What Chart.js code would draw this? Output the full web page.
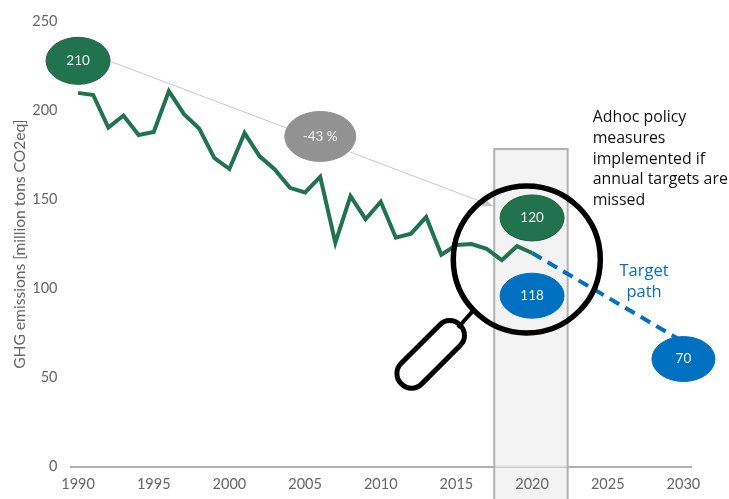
<!DOCTYPE html>
<html>
<head>
<meta charset="utf-8">
<title>GHG emissions</title>
<script src="https://cdn.jsdelivr.net/npm/chart.js@4"></script>
<style>
  html, body { margin: 0; padding: 0; background: #fff; }
  canvas { display: block; }
</style>
</head>
<body>
<canvas id="myChart" width="729" height="499"></canvas>
<script>
// years on the axis
const years = [1990,1991,1992,1993,1994,1995,1996,1997,1998,1999,2000,2001,2002,2003,2004,2005,2006,2007,2008,2009,2010,
  2011,2012,2013,2014,2015,2016,2017,2018,2019,2020,2021,2022,2023,2024,2025,2026,2027,2028,2029,2030];

// historic emissions
const emissions = [210,208.8,190.5,197.3,186.3,188,211,198,190,173.4,167.2,187.4,174.3,167,156.6,154,162.8,125.8,152,139,148.8,
  128.6,130.9,140.2,119,124.5,125,122.3,116,123.8,120];

// target path only has its two ends
const targetYears = [2020, 2030];
const targetValues = [120, 70];
const target = years.map(function (y) {
  const i = targetYears.indexOf(y);
  return i >= 0 ? targetValues[i] : null;
});

const yTicks = [0, 50, 100, 150, 200, 250];
const yTitle = "GHG emissions [million tons CO2eq]";

const noteLines = ["Adhoc policy", "measures", "implemented if", "annual targets are", "missed"];
const targetLines = ["Target", "path"];

const green = "#217350";
const blue = "#0070c0";

// [year, value, rx, ry, label, fill, stroke]
const bubbles = [
  [1990, 228, 32, 23.5, "210", green, "#1a5c40"],
  [2006, 185.5, 35.5, 25, "-43 %", "#929292", "#929292"],
  [2020, 139.7, 32, 23, "120", green, "#1a5c40"],
  [2020, 96, 32, 22.5, "118", blue, blue],
  [2030, 60.4, 31.5, 22.5, "70", blue, blue]
];

function helpers(chart) {
  const x = chart.scales.x, y = chart.scales.y;
  return {
    px: function (yr) { return x.getPixelForValue(yr - 1990); },
    py: function (v) { return y.getPixelForValue(v); }
  };
}

const overlay = {
  id: "overlay",
  // band goes under the axis labels and runs off the bottom of the picture
  beforeDraw(chart) {
    const c = chart.ctx, h = helpers(chart);
    c.save();
    c.fillStyle = "#f3f3f3";
    c.strokeStyle = "#b0b0b0";
    c.lineWidth = 2;
    c.beginPath();
    c.moveTo(h.px(2017.5), chart.height + 2);
    c.lineTo(h.px(2017.5), h.py(178.4));
    c.lineTo(h.px(2022.35), h.py(178.4));
    c.lineTo(h.px(2022.35), chart.height + 2);
    c.fill();
    c.stroke();
    c.restore();
  },
  beforeDatasetsDraw(chart) {
    const c = chart.ctx, h = helpers(chart);
    c.save();

    // axis line looks faded inside the band
    c.strokeStyle = "#e0e0e0";
    c.lineWidth = 2;
    c.beginPath();
    c.moveTo(h.px(2017.5) + 1, h.py(0));
    c.lineTo(h.px(2022.35) - 1, h.py(0));
    c.stroke();

    // arrow from 210 down to 120
    const x0 = h.px(1992.2), y0 = h.py(227.5), x1 = h.px(2017.4), y1 = h.py(146.4);
    const a = Math.atan2(y1 - y0, x1 - x0);
    c.strokeStyle = "#c8c8c8";
    c.lineWidth = 1;
    c.beginPath();
    c.moveTo(x0, y0);
    c.lineTo(x1, y1);
    c.stroke();
    c.fillStyle = "#c8c8c8";
    c.beginPath();
    c.moveTo(x1, y1);
    c.lineTo(x1 - 11 * Math.cos(a - 0.4), y1 - 11 * Math.sin(a - 0.4));
    c.lineTo(x1 - 11 * Math.cos(a + 0.4), y1 - 11 * Math.sin(a + 0.4));
    c.fill();
    c.restore();
  },
  afterDatasetsDraw(chart) {
    const c = chart.ctx, h = helpers(chart);
    c.save();

    // magnifying glass
    c.strokeStyle = "#000";
    c.lineWidth = 5.5;
    c.beginPath();
    c.arc(h.px(2019.65), h.py(116.4), 73.5, 0, Math.PI * 2);
    c.stroke();
    c.lineWidth = 4;
    c.beginPath();
    c.moveTo(h.px(2016.05), h.py(87));
    c.lineTo(h.px(2015.1), h.py(78));
    c.stroke();
    c.save();
    c.translate(h.px(2013.3), h.py(63));
    c.rotate(-Math.PI / 4);
    c.lineWidth = 5;
    c.beginPath();
    c.roundRect(-41.5, -14.5, 83, 29, 14);
    c.stroke();
    c.restore();

    // bubbles
    bubbles.forEach(function (b) {
      const bx = h.px(b[0]), by = h.py(b[1]);
      c.fillStyle = b[5];
      c.strokeStyle = b[6];
      c.lineWidth = 1;
      c.beginPath();
      c.ellipse(bx, by, b[2], b[3], 0, 0, Math.PI * 2);
      c.fill();
      c.stroke();
      c.fillStyle = "#f4f4f4";
      c.font = "13.5px Lato";
      c.textAlign = "center";
      c.textBaseline = "middle";
      c.fillText(b[4], bx, by);
    });

    // notes
    c.fillStyle = "#111";
    c.font = "15.9px 'Open Sans'";
    c.textAlign = "left";
    noteLines.forEach(function (t, i) {
      c.fillText(t, h.px(2024), h.py(196) + i * 20.6);
    });
    c.fillStyle = blue;
    c.font = "16.5px 'Open Sans'";
    c.textAlign = "center";
    targetLines.forEach(function (t, i) {
      c.fillText(t, h.px(2027.4), h.py(109.6) + i * 20.3);
    });
    c.restore();
  }
};

var ctx = document.getElementById("myChart");
var myChart = new Chart(ctx, {
  type: "line",
  data: {
    labels: years,
    datasets: [
      {
        data: emissions,
        borderColor: green,
        borderWidth: 4,
        pointRadius: 0,
        tension: 0,
        borderJoinStyle: "miter",
        fill: false
      },
      {
        data: target,
        borderColor: blue,
        borderWidth: 4,
        borderDash: [11, 7],
        pointRadius: 0,
        tension: 0,
        spanGaps: true,
        fill: false
      }
    ]
  },
  options: {
    responsive: false,
    animation: false,
    layout: { padding: { top: 20, right: 38, bottom: 0, left: 0 } },
    plugins: {
      legend: { display: false },
      title: { display: false },
      tooltip: { enabled: false }
    },
    scales: {
      x: {
        offset: true,
        afterFit(scale) { scale.height = 32.5; },
        grid: { display: false, drawTicks: false },
        border: { color: "#b0b0b0", width: 2 },
        ticks: {
          autoSkip: false,
          maxRotation: 0,
          padding: 9,
          color: "#666666",
          font: { family: "Lato", size: 14.5 },
          callback(value) {
            const yr = years[value];
            return yr % 5 === 0 ? String(yr) : "";
          }
        }
      },
      y: {
        min: 0,
        max: 250,
        afterFit(scale) { scale.width = 70.5; },
        afterBuildTicks(scale) { scale.ticks = yTicks.map(function (v) { return { value: v }; }); },
        grid: { display: false, drawTicks: false },
        border: { display: false },
        title: {
          display: true,
          text: yTitle,
          color: "#666666",
          font: { family: "Lato", size: 15.6 },
          padding: { top: 11, bottom: 0 }
        },
        ticks: {
          padding: 13,
          color: "#666666",
          font: { family: "Lato", size: 14.5 }
        }
      }
    }
  },
  plugins: [overlay]
});
</script>
</body>
</html>
